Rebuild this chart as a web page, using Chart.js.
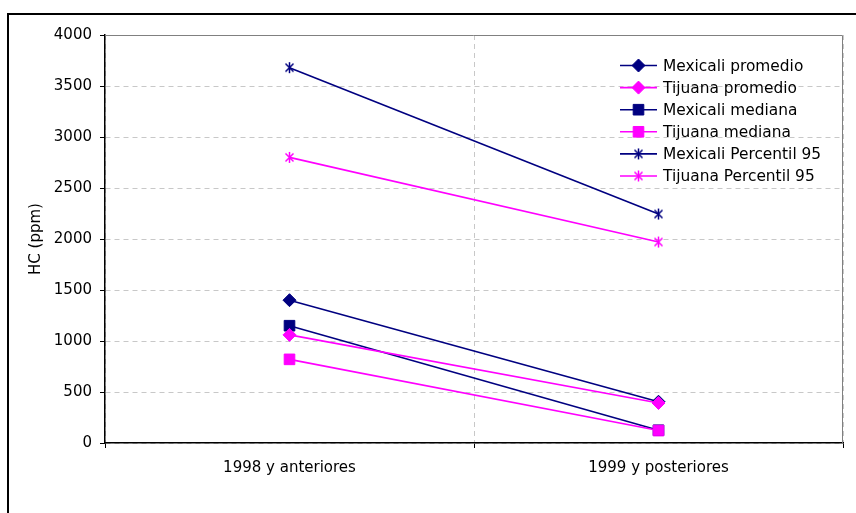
<!DOCTYPE html>
<html>
<head>
<meta charset="utf-8">
<script src="https://cdn.jsdelivr.net/npm/chart.js@4"></script>
<style>
  body { margin: 0; background: #fff; }
  #wrap { width: 856px; height: 513px; }
</style>
</head>
<body>
<div id="wrap"><canvas id="hcChart" width="856" height="513"></canvas></div>
<script>
// Datos
const categorias = ['1998 y anteriores', '1999 y posteriores'];
const seriesNames = ['Mexicali promedio', 'Tijuana promedio', 'Mexicali mediana', 'Tijuana mediana', 'Mexicali Percentil 95', 'Tijuana Percentil 95'];
const mexicaliPromedio = [1400, 405];
const tijuanaPromedio = [1060, 392];
const mexicaliMediana = [1150, 125];
const tijuanaMediana = [820, 122];
const mexicaliP95 = [3680, 2245];
const tijuanaP95 = [2800, 1970];
const yTicks = [0, 500, 1000, 1500, 2000, 2500, 3000, 3500, 4000];

const NAVY = '#000080';
const MAGENTA = '#FF00FF';

Chart.defaults.font.family = 'DejaVu Sans';
Chart.defaults.font.size = 15;
Chart.defaults.color = '#000';

// marcador asterisco estilo Excel
function makeStar(color) {
    const c = document.createElement('canvas');
    c.width = 13; c.height = 13;
    const g = c.getContext('2d');
    g.strokeStyle = color;
    g.lineWidth = 1.5;
    g.beginPath();
    g.moveTo(2.5, 2.5); g.lineTo(10.5, 10.5);
    g.moveTo(10.5, 2.5); g.lineTo(2.5, 10.5);
    g.moveTo(6.5, 1); g.lineTo(6.5, 12);
    g.stroke();
    return c;
}

function serie(label, data, color, style, radius, order) {
    return {
        label: label,
        data: data,
        borderColor: color,
        backgroundColor: color,
        pointBackgroundColor: color,
        pointBorderColor: color,
        pointStyle: style,
        pointRadius: radius,
        pointHoverRadius: radius,
        pointBorderWidth: 1,
        borderWidth: 1.6,
        tension: 0,
        order: order
    };
}

const datasets = [
    serie(seriesNames[0], mexicaliPromedio, NAVY, 'rectRot', 6.5, 1),
    serie(seriesNames[1], tijuanaPromedio, MAGENTA, 'rectRot', 6.5, 0),
    serie(seriesNames[2], mexicaliMediana, NAVY, 'rect', 7.5, 1),
    serie(seriesNames[3], tijuanaMediana, MAGENTA, 'rect', 7.5, 0),
    serie(seriesNames[4], mexicaliP95, NAVY, makeStar(NAVY), 6, 1),
    serie(seriesNames[5], tijuanaP95, MAGENTA, makeStar(MAGENTA), 6, 0)
];

// marco exterior + borde del área de trazado
const framePlugin = {
    id: 'frame',
    beforeDraw(chart) {
        const ctx = chart.ctx;
        ctx.save();
        ctx.fillStyle = '#fff';
        ctx.fillRect(0, 0, chart.width, chart.height);
        ctx.strokeStyle = '#000';
        ctx.lineWidth = 2;
        ctx.strokeRect(8, 14, chart.width + 20, chart.height + 20);
        ctx.restore();
    },
    beforeDatasetsDraw(chart) {
        const a = chart.chartArea;
        const ctx = chart.ctx;
        ctx.save();
        ctx.strokeStyle = '#808080';
        ctx.lineWidth = 1;
        ctx.beginPath();
        ctx.moveTo(a.left, a.top + 0.5);
        ctx.lineTo(a.right - 0.5, a.top + 0.5);
        ctx.lineTo(a.right - 0.5, a.bottom);
        ctx.stroke();
        ctx.restore();
    }
};

// leyenda sin caja, línea + marcador
const legendPlugin = {
    id: 'excelLegend',
    afterDraw(chart) {
        const ctx = chart.ctx;
        ctx.save();
        chart.data.datasets.forEach(function(ds, i) {
            const y = 65.5 + i * 22.1;
            ctx.strokeStyle = ds.borderColor;
            ctx.lineWidth = 1.6;
            ctx.beginPath();
            ctx.moveTo(620, y);
            ctx.lineTo(657, y);
            ctx.stroke();
            ctx.fillStyle = ds.pointBackgroundColor;
            ctx.strokeStyle = ds.pointBorderColor;
            ctx.lineWidth = 1;
            Chart.helpers.drawPoint(ctx, {
                pointStyle: ds.pointStyle,
                radius: ds.pointRadius,
                rotation: 0,
                borderWidth: 1
            }, 638.5, y);
            ctx.fillStyle = '#000';
            ctx.font = '15.4px "DejaVu Sans"';
            ctx.textAlign = 'left';
            ctx.textBaseline = 'middle';
            ctx.fillText(ds.label, 663, y + 1);
        });
        ctx.restore();
    }
};

new Chart(document.getElementById('hcChart').getContext('2d'), {
    type: 'line',
    data: {
        labels: categorias,
        datasets: datasets
    },
    options: {
        responsive: false,
        animation: false,
        layout: {
            padding: { left: 0, top: 35, right: 13, bottom: 0 }
        },
        plugins: {
            legend: { display: false },
            tooltip: { enabled: false }
        },
        scales: {
            x: {
                type: 'category',
                offset: true,
                grid: {
                    offset: true,
                    color: '#c8c8c8',
                    tickColor: '#000',
                    tickLength: 5,
                    lineWidth: 1
                },
                border: {
                    display: true,
                    color: '#000',
                    width: 1.5,
                    dash: [5, 4]
                },
                ticks: {
                    color: '#000',
                    padding: 11,
                    maxRotation: 0
                },
                afterFit: function(scale) {
                    scale.height = 70;
                }
            },
            y: {
                min: 0,
                max: 4000,
                afterBuildTicks: function(scale) {
                    scale.ticks = yTicks.map(function(v) { return { value: v }; });
                },
                grid: {
                    color: '#c8c8c8',
                    tickColor: '#000',
                    tickLength: 5,
                    lineWidth: 1
                },
                border: {
                    display: true,
                    color: '#000',
                    width: 1.5,
                    dash: [5, 4]
                },
                ticks: {
                    color: '#000',
                    padding: 8,
                    callback: function(value) {
                        return String(value);
                    }
                },
                title: {
                    display: true,
                    text: 'HC (ppm)',
                    color: '#000',
                    font: { size: 15 },
                    padding: { top: 27, bottom: 0 }
                },
                afterFit: function(scale) {
                    scale.width = 105;
                }
            }
        }
    },
    plugins: [framePlugin, legendPlugin]
});
</script>
</body>
</html>
